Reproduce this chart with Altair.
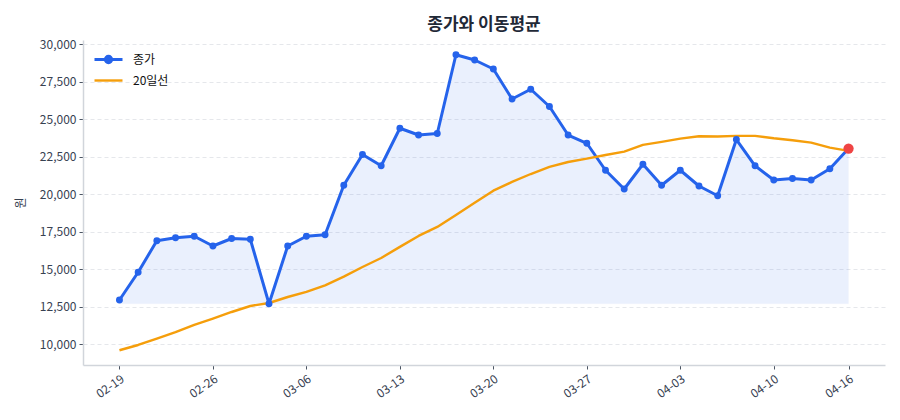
import altair as alt
import pandas as pd

# Trading days (MM-DD), closing prices and 20-day moving average
dates = [
    "02-19", "02-20", "02-23", "02-24", "02-25", "02-26", "02-27",
    "03-03", "03-04", "03-05", "03-06", "03-09", "03-10", "03-11",
    "03-12", "03-13", "03-16", "03-17", "03-18", "03-19", "03-20",
    "03-23", "03-24", "03-25", "03-26", "03-27", "03-30", "03-31",
    "04-01", "04-02", "04-03", "04-06", "04-07", "04-08", "04-09",
    "04-10", "04-13", "04-14", "04-15", "04-16",
]
close = [
    12950, 14800, 16900, 17100, 17200, 16550, 17050, 17000, 12700, 16550,
    17200, 17300, 20600, 22650, 21900, 24400, 23950, 24050, 29300, 28950,
    28350, 26350, 27000, 25850, 23950, 23400, 21600, 20350, 22000, 20600,
    21600, 20550, 19900, 23650, 21900, 20950, 21050, 20950, 21700, 23050,
]
ma20 = [
    9600, 9950, 10380, 10800, 11290, 11710, 12150, 12550, 12750, 13150,
    13490, 13930, 14510, 15150, 15750, 16490, 17220, 17820, 18620, 19440,
    20240, 20820, 21350, 21820, 22150, 22380, 22620, 22840, 23290, 23490,
    23710, 23870, 23850, 23890, 23890, 23730, 23600, 23440, 23110, 22890,
]
tick_index = [0, 5, 10, 15, 20, 25, 30, 35, 39]
y_ticks = [10000, 12500, 15000, 17500, 20000, 22500, 25000, 27500, 30000]

BLUE = "#2563eb"
ORANGE = "#f59e0b"
RED = "#ef4444"
FONT = "Noto Sans CJK KR"

wide = pd.DataFrame({"i": range(len(dates)), "date": dates, "종가": close, "20일선": ma20})
wide["base"] = min(close)
long = wide.melt(id_vars=["i", "date"], value_vars=["종가", "20일선"],
                 var_name="series", value_name="price")
last = wide.tail(1)

# trading-day index on x, labelled with the matching date
date_lookup = "[" + ",".join(f"'{d}'" for d in dates) + "]"
x = alt.X(
    "i:Q",
    scale=alt.Scale(domain=[-1.95, len(dates) - 1 + 1.95], nice=False, zero=False),
    axis=alt.Axis(values=tick_index, labelExpr=f"{date_lookup}[datum.value]",
                  labelAngle=325, title=None, grid=False),
)
y_scale = alt.Scale(domain=[8615, 30285], nice=False, zero=False)

area = alt.Chart(wide).mark_area(
    color=BLUE, opacity=0.09, stroke=BLUE, strokeOpacity=0.08, strokeWidth=1
).encode(
    x=x,
    y=alt.Y("종가:Q", scale=y_scale,
            axis=alt.Axis(values=y_ticks, format=",d", title="원")),
    y2="base:Q",
)

close_symbol = "M-2,0L2,0M-0.45,0A0.45,0.45,0,1,0,0.45,0A0.45,0.45,0,1,0,-0.45,0Z"
ma_symbol = "M-2,0L2,0"

lines = alt.Chart(long).mark_line(strokeJoin="round").encode(
    x=x,
    y=alt.Y("price:Q", scale=y_scale),
    color=alt.Color(
        "series:N",
        scale=alt.Scale(domain=["종가", "20일선"], range=[BLUE, ORANGE]),
        legend=alt.Legend(
            title=None,
            orient="none",
            legendX=17,
            legendY=11,
            padding=0,
            symbolType={"expr": f"datum.value == '종가' ? '{close_symbol}' : '{ma_symbol}'"},
            symbolSize=196,
            symbolStrokeWidth=2.6,
            symbolFillColor=BLUE,
            labelFontSize=12,
            labelColor="#111111",
            labelFont=FONT,
            rowPadding=3,
            labelOffset=16,
        ),
    ),
    strokeWidth=alt.StrokeWidth(
        "series:N",
        scale=alt.Scale(domain=["종가", "20일선"], range=[3, 2.4]),
        legend=None,
    ),
)

points = alt.Chart(wide).mark_circle(color=BLUE, size=48, opacity=1).encode(
    x=x, y=alt.Y("종가:Q", scale=y_scale)
)

last_point = alt.Chart(last).mark_circle(color=RED, size=105, opacity=1).encode(
    x=x, y=alt.Y("종가:Q", scale=y_scale)
)

chart = (
    alt.layer(area, lines, points, last_point)
    .properties(
        width=802,
        height=325,
        padding={"left": 83, "top": 40, "right": 15, "bottom": 55},
        autosize=alt.AutoSizeParams(type="none"),
        title=alt.Title("종가와 이동평균", fontSize=17, fontWeight="bold",
                        color="#1f2937", font=FONT, offset=4, anchor="middle"),
    )
    .configure_view(stroke=None)
    .configure_axis(
        labelFont=FONT,
        titleFont=FONT,
        labelFontSize=12,
        labelColor="#374151",
        titleColor="#374151",
        titleFontSize=12,
        titleFontWeight="normal",
        domainColor="#d1d5db",
        domainWidth=1.5,
        tickColor="#4b5563",
        tickSize=4,
        labelPadding=3,
        titlePadding=12,
    )
    .configure_axisY(
        gridColor="#e5e7eb",
        gridDash=[4, 3],
        gridWidth=1,
    )
    .configure_axisX(labelAlign="right", labelBaseline="top", labelPadding=4)
)

chart.save("out.html", embed_options={"renderer": "svg", "actions": False})
